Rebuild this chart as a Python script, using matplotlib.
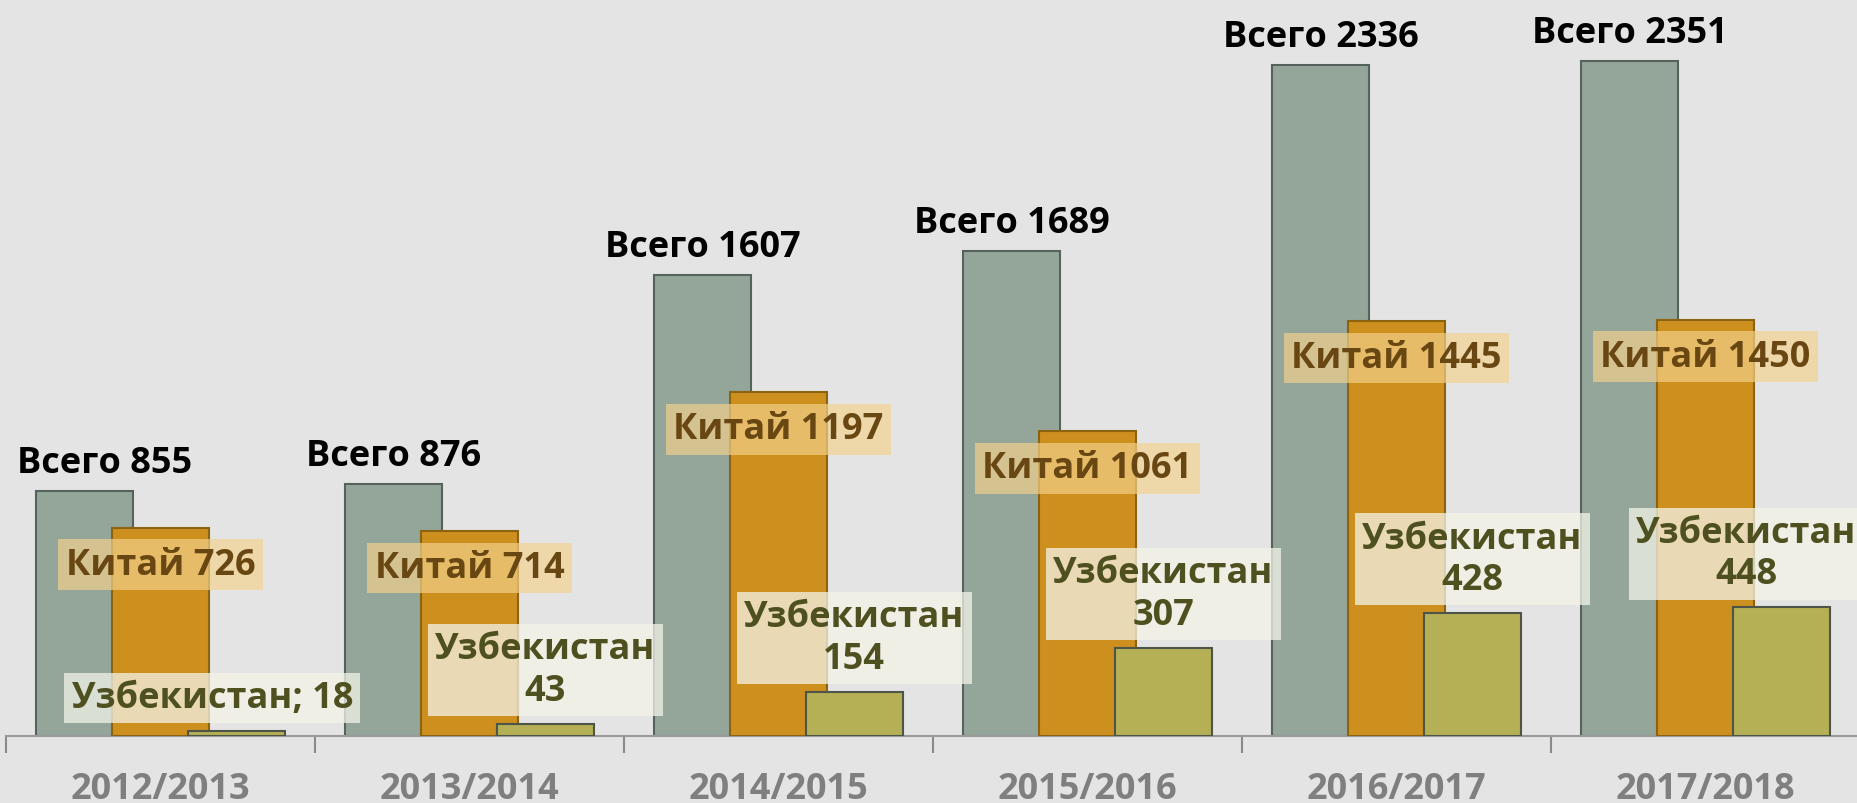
import matplotlib
matplotlib.use("Agg")
import matplotlib.pyplot as plt
import numpy as np

# ---- data ----
years = ["2012/2013", "2013/2014", "2014/2015", "2015/2016", "2016/2017", "2017/2018"]
total = [855, 876, 1607, 1689, 2336, 2351]
china = [726, 714, 1197, 1061, 1445, 1450]
uzbek = [18, 43, 154, 307, 428, 448]

# ---- style ----
BG = "#E4E4E4"
C_TOTAL, E_TOTAL = "#94A59A", "#56625B"
C_CHINA, E_CHINA = "#CD8F1E", "#8C6410"
C_UZ, E_UZ = "#B5AF55", "#4D5549"
FONT = ["Open Sans", "DejaVu Sans"]
FS = 26

W, H = 1858, 804
fig = plt.figure(figsize=(W / 100, H / 100), dpi=100, facecolor=BG)
ax = fig.add_axes([6 / W, 67 / H, 1854 / W, 737 / H])
ax.set_facecolor(BG)

x = np.arange(len(years))
step = 0.2456
bw = 0.316

ax.bar(x - step, total, bw, color=C_TOTAL, edgecolor=E_TOTAL, linewidth=1.5, zorder=2)
ax.bar(x, china, bw, color=C_CHINA, edgecolor=E_CHINA, linewidth=1.5, zorder=3)
ax.bar(x + step, uzbek, bw, color=C_UZ, edgecolor=E_UZ, linewidth=1.5, zorder=4)

ax.set_xlim(-0.5, len(years) - 0.5)
ax.set_ylim(0, 2567)

px = 0.72  # points per pixel at dpi 100

# label nudges (pixels)
total_dx = [20, 0, 0, 0, 0, 0]
uz_dx = [-24, 0, 0, 0, 0, -35]

for i in range(len(years)):
    ax.annotate(f"Всего {total[i]}", xy=(x[i] - step, total[i]),
                xytext=(total_dx[i] * px, 19 * px), textcoords="offset points",
                ha="center", va="baseline", fontsize=FS, fontweight="bold",
                color="black", family=FONT, zorder=10, annotation_clip=False)
    ax.annotate(f"Китай {china[i]}", xy=(x[i], china[i]),
                xytext=(0, -37 * px), textcoords="offset points",
                ha="center", va="center", fontsize=FS, fontweight="bold",
                color="#694712", family=FONT, zorder=11, annotation_clip=False,
                bbox=dict(boxstyle="square,pad=0.2", fc="#F3D28C", ec="none", alpha=0.68))
    uz_text = f"Узбекистан; {uzbek[i]}" if i == 0 else f"Узбекистан\n{uzbek[i]}"
    ax.annotate(uz_text, xy=(x[i] + step, uzbek[i]),
                xytext=(uz_dx[i] * px, 15 * px), textcoords="offset points",
                ha="center", va="bottom", multialignment="center",
                fontsize=FS, fontweight="bold", color="#4F5020", family=FONT,
                zorder=12, annotation_clip=False, linespacing=1.2,
                bbox=dict(boxstyle="square,pad=0.2", fc="#F3F3E8", ec="none", alpha=0.75))

# axes styling
for s in ["top", "right", "left"]:
    ax.spines[s].set_visible(False)
ax.spines["bottom"].set_color("#9A9A9A")
ax.spines["bottom"].set_linewidth(1.5)
ax.set_yticks([])

ax.set_xticks(np.arange(-0.5, len(years) + 0.5, 1.0))
ax.set_xticklabels([])
ax.tick_params(axis="x", which="major", length=12, width=1.5, color="#8A8A8A", direction="out")
ax.set_xticks(x, minor=True)
ax.set_xticklabels(years, minor=True)
ax.tick_params(axis="x", which="minor", length=0, pad=25)
for lab in ax.get_xticklabels(minor=True):
    lab.set_fontsize(26)
    lab.set_fontweight("bold")
    lab.set_color("#7F7F7F")
    lab.set_family(FONT)

fig.savefig("out.png", dpi=100, facecolor=BG)
